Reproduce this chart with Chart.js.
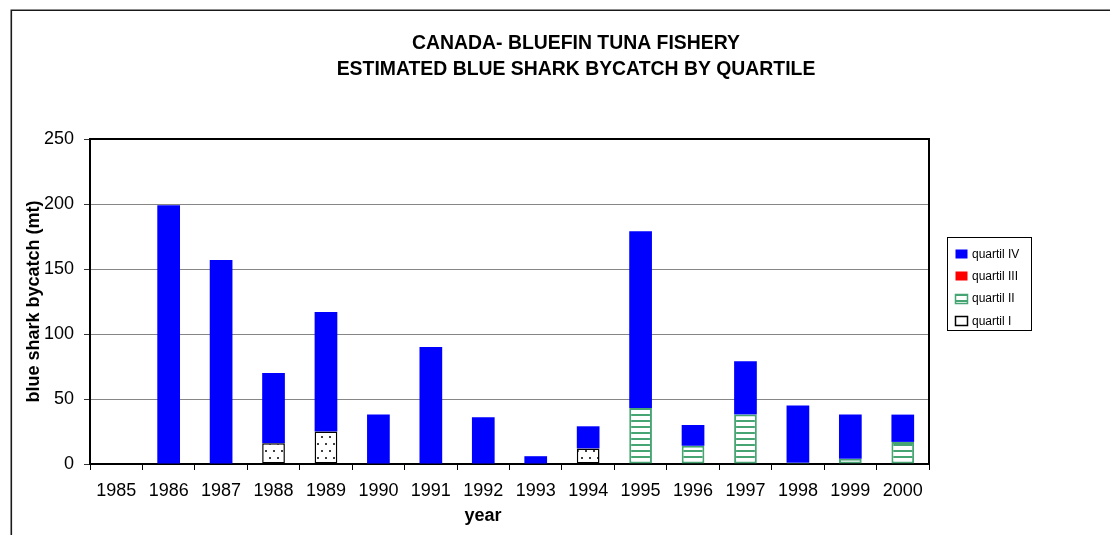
<!DOCTYPE html>
<html>
<head>
<meta charset="utf-8">
<script src="https://cdn.jsdelivr.net/npm/chart.js@4.4.1/dist/chart.umd.min.js"></script>
<style>
  html, body { margin: 0; padding: 0; background: #fff; overflow: hidden; width: 1110px; height: 535px; }
  #wrap { position: absolute; left: 0; top: 0; width: 1152px; height: 535px; }
</style>
</head>
<body>
<div id="wrap"><canvas id="c" width="1152" height="535"></canvas></div>
<script>
// Blue shark bycatch (mt) by quartile, Canadian bluefin tuna fishery
const years = ['1985','1986','1987','1988','1989','1990','1991','1992','1993','1994','1995','1996','1997','1998','1999','2000'];
const quartilI   = [0, 0, 0, 16, 25, 0, 0, 0, 0, 12, 0, 0, 0, 0, 0, 0];
const quartilII  = [0, 0, 0, 0, 0, 0, 0, 0, 0, 0, 43, 14, 38, 1, 4, 17];
const quartilIII = [0, 0, 0, 0, 0, 0, 0, 0, 0, 0, 0, 0, 0, 0, 0, 0];
const quartilIV  = [0, 199, 157, 54, 92, 38, 90, 36, 6, 17, 136, 16, 41, 44, 34, 21];
const seriesNames = ['quartil I', 'quartil II', 'quartil III', 'quartil IV'];
const titleLines = ['CANADA- BLUEFIN TUNA FISHERY', 'ESTIMATED BLUE SHARK BYCATCH BY QUARTILE'];

const FONT = "'Liberation Sans', Arial, sans-serif";
const GREEN = 'rgb(70,165,115)';

const canvas = document.getElementById('c');
const ctx = canvas.getContext('2d');

// fill patterns: dotted (quartil I) and horizontal stripes (quartil II)
function dotPattern() {
  const t = document.createElement('canvas');
  t.width = 8; t.height = 14;
  const g = t.getContext('2d');
  g.fillStyle = '#fff'; g.fillRect(0, 0, 8, 14);
  g.fillStyle = '#000';
  [[2, 3], [6, 10]].forEach(([x, y]) => { g.beginPath(); g.arc(x, y, 1, 0, Math.PI * 2); g.fill(); });
  return ctx.createPattern(t, 'repeat');
}
function stripePattern() {
  const t = document.createElement('canvas');
  t.width = 4; t.height = 6;
  const g = t.getContext('2d');
  g.fillStyle = '#fff'; g.fillRect(0, 0, 4, 6);
  g.fillStyle = GREEN; g.fillRect(0, 0, 4, 2);
  return ctx.createPattern(t, 'repeat');
}
const dots = dotPattern();
const stripes = stripePattern();

const common = { barPercentage: 0.433, categoryPercentage: 1.0, borderSkipped: false };

const frameAndLegend = {
  id: 'frameAndLegend',
  beforeDraw(chart) {
    const c = chart.ctx;
    c.save();
    c.strokeStyle = '#1a1a1a';
    c.lineWidth = 1.6;
    c.beginPath();
    c.moveTo(11.3, 535);
    c.lineTo(11.3, 10.3);
    c.lineTo(chart.width, 10.3);
    c.stroke();
    c.restore();
  },
  afterDraw(chart) {
    const c = chart.ctx;
    const a = chart.chartArea;
    c.save();
    // plot-area border (top and right)
    c.strokeStyle = '#000';
    c.lineWidth = 2;
    c.beginPath();
    c.moveTo(a.left, a.top);
    c.lineTo(a.right, a.top);
    c.lineTo(a.right, a.bottom);
    c.stroke();

    // x-axis title
    c.fillStyle = '#000';
    c.font = 'bold 18px ' + FONT;
    c.textAlign = 'center';
    c.textBaseline = 'middle';
    c.fillText('year', 483, 516);

    // legend
    c.strokeStyle = '#000';
    c.lineWidth = 1;
    c.strokeRect(947.5, 237.5, 84, 93);
    c.font = '12px ' + FONT;
    c.textAlign = 'left';
    const ds = chart.data.datasets.slice().reverse();
    ds.forEach((d, k) => {
      const cy = 254 + k * 22.3;
      const x = 955.5, y = Math.round(cy - 5) + 0.5, w = 12, h = 9;
      c.fillStyle = d.legendFill || d.backgroundColor;
      c.fillRect(x, y, w, h);
      if (d.borderWidth) {
        c.strokeStyle = d.borderColor;
        c.lineWidth = 1.5;
        c.strokeRect(x, y, w, h);
      }
      c.fillStyle = '#000';
      c.fillText(d.label, 972, cy + 0.5);
    });
    c.restore();
  }
};

new Chart(canvas, {
  type: 'bar',
  data: {
    labels: years,
    datasets: [
      { label: seriesNames[0], data: quartilI, backgroundColor: dots, legendFill: '#fff',
        borderColor: '#000', borderWidth: 1.5, ...common },
      { label: seriesNames[1], data: quartilII, backgroundColor: stripes,
        borderColor: GREEN, borderWidth: 2, ...common },
      { label: seriesNames[2], data: quartilIII, backgroundColor: '#ff0000', borderWidth: 0, ...common },
      { label: seriesNames[3], data: quartilIV, backgroundColor: '#0000ff', borderWidth: 0, ...common }
    ]
  },
  options: {
    responsive: false,
    animation: false,
    events: [],
    layout: { padding: { left: 0, right: 0, top: 0, bottom: 0 } },
    plugins: {
      legend: { display: false },
      tooltip: { enabled: false },
      title: {
        display: true,
        text: titleLines,
        color: '#000',
        font: { family: FONT, size: 19.4, weight: 'bold', lineHeight: 26 / 19.4 },
        padding: { top: 31, bottom: 56 }
      }
    },
    scales: {
      x: {
        stacked: true,
        offset: true,
        grid: { display: true, drawOnChartArea: false, offset: true, tickLength: 6, color: '#000', tickWidth: 1 },
        border: { display: true, color: '#000', width: 2 },
        ticks: { color: '#000', font: { family: FONT, size: 18 }, padding: 10, maxRotation: 0, autoSkip: false },
        afterFit(s) { s.height = 71; }
      },
      y: {
        stacked: true,
        min: 0,
        max: 250,
        ticks: { stepSize: 50, color: '#000', font: { family: FONT, size: 18 }, padding: 10 },
        grid: { color: '#868686', lineWidth: 1, tickLength: 6, tickColor: '#333' },
        border: { display: true, color: '#000', width: 2 },
        title: {
          display: true,
          text: 'blue shark bycatch (mt)',
          color: '#000',
          font: { family: FONT, size: 18, weight: 'bold' },
          padding: { top: 23, bottom: 0 }
        },
        afterFit(s) { s.width = 90; }
      },
      side: {
        type: 'linear',
        position: 'right',
        display: true,
        grid: { display: false },
        border: { display: false },
        ticks: { display: false },
        afterFit(s) { s.width = 1152 - 929; }
      }
    }
  },
  plugins: [frameAndLegend]
});
</script>
</body>
</html>
